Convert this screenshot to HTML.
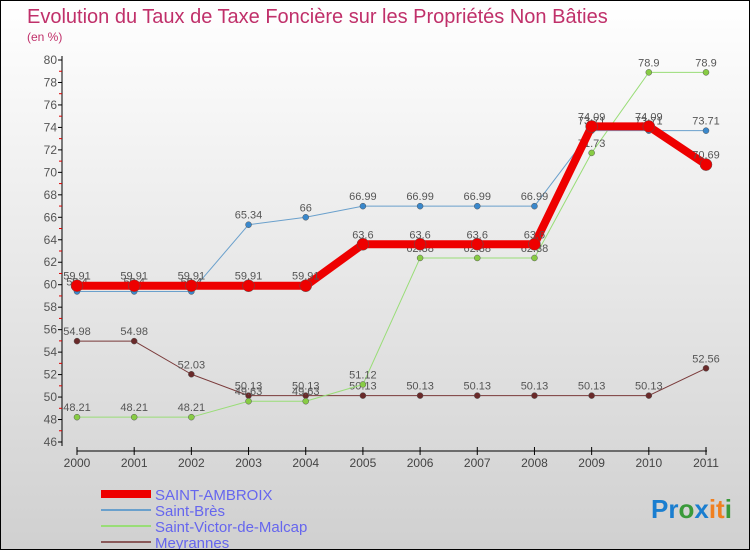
<!DOCTYPE html>
<html><head><meta charset="utf-8"><style>
body{margin:0}
#c{width:748px;height:548px;border:1px solid #000;background:linear-gradient(#fff,#d0d0d0);position:relative;font-family:"Liberation Sans",sans-serif;overflow:hidden}
svg text{font-family:"Liberation Sans",sans-serif}
</style></head><body>
<div id="c">
<svg id="s" width="748" height="548">
<text x="26" y="22" font-size="20" fill="#c0306a">Evolution du Taux de Taxe Foncière sur les Propriétés Non Bâties</text>
<text x="26" y="40" font-size="12" fill="#c0306a">(en %)</text>
<text x="650" y="517" font-size="26" font-weight="bold"><tspan fill="#1a7ed0">Pr</tspan><tspan fill="#3a9a3a">o</tspan><tspan fill="#1a7ed0">x</tspan><tspan fill="#f08020">it</tspan><tspan fill="#3a9a3a">i</tspan></text>
</svg>
</div>
<script>
const years=["2000","2001","2002","2003","2004","2005","2006","2007","2008","2009","2010","2011"];
const yTicks=[46,48,50,52,54,56,58,60,62,64,66,68,70,72,74,76,78,80];
const saintAmbroix=[59.91,59.91,59.91,59.91,59.91,63.6,63.6,63.6,63.6,74.09,74.09,70.69];
const saintBres=[59.4,59.4,59.4,65.34,66,66.99,66.99,66.99,66.99,73.71,73.71,73.71];
const saintVictor=[48.21,48.21,48.21,49.63,49.63,51.12,62.38,62.38,62.38,71.73,78.9,78.9];
const meyrannes=[54.98,54.98,52.03,50.13,50.13,50.13,50.13,50.13,50.13,50.13,50.13,52.56];
const seriesNames=["SAINT-AMBROIX","Saint-Brès","Saint-Victor-de-Malcap","Meyrannes"];
const NS="http://www.w3.org/2000/svg",s=document.getElementById('s');
const X=i=>76+i*(705-76)/11, Y=v=>59+(80-v)*(441-59)/34;
function el(t,a,p){const e=document.createElementNS(NS,t);for(const k in a)e.setAttribute(k,a[k]);(p||s).appendChild(e);return e;}
let ax=el('line',{x1:61,y1:55,x2:61,y2:445,stroke:'#000'});


yTicks.forEach(v=>{
 let t=el('line',{x1:57,x2:61,y1:Y(v),y2:Y(v),stroke:'#000'});
 
 
 let m=el('line',{x1:58,x2:61,y1:Y(v+1),y2:Y(v+1),stroke:'#d00'});
 if(v==80)m.remove();
 let l=el('text',{x:56,y:Y(v)+4,'font-size':12,'text-anchor':'end',fill:'#555'});l.textContent=v;
 
 
});
let xa=el('line',{x1:76,y1:450,x2:706,y2:450,stroke:'#000'});


years.forEach((y,i)=>{
 el('line',{x1:X(i),x2:X(i),y1:446,y2:454,stroke:'#000'});
 let l=el('text',{x:X(i),y:466,'font-size':12,'text-anchor':'middle',fill:'#444'});l.textContent=y;
 
 
});
function series(data,color,w,r,dot,name){
 const g=el('g',{});
 
 
 el('polyline',{points:data.map((v,i)=>X(i)+','+Y(v)).join(' '),fill:'none',stroke:color,'stroke-width':w,'stroke-linejoin':'round'},g);
 data.forEach((v,i)=>{
  let c=el('circle',{cx:X(i),cy:Y(v),r:r,fill:dot,stroke:'#555','stroke-width':0.5},g);
  
  
  let t=el('text',{x:X(i),y:Y(v)-6,'font-size':11,'text-anchor':'middle',fill:'#555'},g);t.textContent=v;
 });
}
series(meyrannes,'#7a3a3a',1,3,'#6a2a2a','series-meyrannes');
series(saintVictor,'#99dd77',1,3,'#88cc44','series-saint-victor');
series(saintBres,'#6aa0cc',1,3,'#3a88cc','series-saint-bres');
series(saintAmbroix,'#ee0000',8,6,'#ee0000','series-saint-ambroix');
const lc=['#ee0000','#6aa0cc','#99dd77','#8a5a5a'],lw=[8,2,2,2];
seriesNames.forEach((n,i)=>{
 const y=493+i*16;
 let g=el('g',{});
 
 
 el('line',{x1:100,x2:150,y1:y,y2:y,stroke:lc[i],'stroke-width':lw[i]},g);
 let t=el('text',{x:154,y:y+6,'font-size':15,fill:'#6666ee'},g);t.textContent=n;
});
</script>
</body></html>
